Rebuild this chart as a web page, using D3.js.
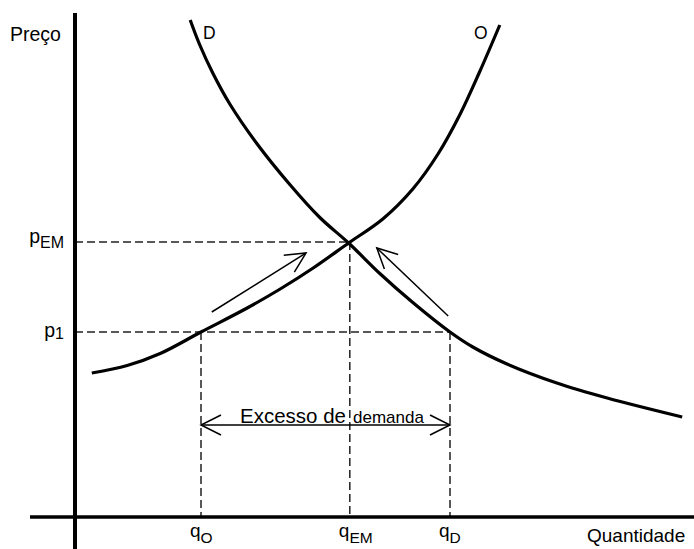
<!DOCTYPE html>
<html>
<head>
<meta charset="utf-8">
<script src="https://cdn.jsdelivr.net/npm/d3@7"></script>
<style>
  html, body { margin: 0; padding: 0; background: #fff; }
  svg { display: block; font-family: "Liberation Sans", Arial, sans-serif; }
</style>
</head>
<body>
<svg id="chart" width="694" height="549"></svg>
<script>
// quantities and prices marked on the axes
const quantidades = [2.1, 4.58, 6.25];
const qSubs = ["O", "EM", "D"];
const precos = [3.7, 5.5];
const pSubs = ["1", "EM"];
const equilibrio = [4.58, 5.5];

// demand (D) and supply (O) curves, [quantity, price]
const demanda = [
  [1.92, 9.94], [2.08, 9.44], [2.30, 8.87], [2.58, 8.26], [3.03, 7.47],
  [3.58, 6.65], [4.08, 5.99], [4.56, 5.48], [5.08, 4.87], [5.63, 4.29],
  [6.25, 3.70], [6.63, 3.40], [7.20, 3.06], [8.03, 2.68], [8.87, 2.38],
  [10.12, 2.00]
];
const oferta = [
  [0.28, 2.88], [0.87, 3.03], [1.42, 3.27], [2.10, 3.70], [2.87, 4.18],
  [3.42, 4.56], [3.97, 4.98], [4.56, 5.48], [5.13, 5.96], [5.63, 6.56],
  [6.05, 7.26], [6.42, 8.06], [6.75, 8.92], [7.08, 9.84]
];

// arrows pointing toward the equilibrium
const setas = [
  [[2.28, 4.10], [3.85, 5.28]],
  [[6.22, 4.02], [5.03, 5.38]]
];
// level of the "excess demand" double arrow
const nivelExcesso = 1.84;

const svg = d3.select("#chart");
const x = d3.scaleLinear().domain([0, 10]).range([75, 675]);
const y = d3.scaleLinear().domain([0, 10]).range([517, 17]);

svg.append("rect").attr("width", 694).attr("height", 549).attr("fill", "#fff");

let defs = svg.append("defs");
defs.append("marker")
  .attr("id", "head")
  .attr("viewBox", "-22 -12 24 24")
  .attr("markerUnits", "userSpaceOnUse")
  .attr("markerWidth", 24)
  .attr("markerHeight", 24)
  .attr("refX", 0)
  .attr("refY", 0)
  .attr("orient", "auto-start-reverse")
  .append("path")
  .attr("d", "M-20,-10L0,0L-20,10")
  .attr("fill", "none")
  .attr("stroke", "#000")
  .attr("stroke-width", 1.5);

// dashed guides
let guias = svg.append("g")
  .attr("stroke", "#222")
  .attr("stroke-width", 1.5)
  .attr("stroke-dasharray", "8,4")
  .attr("fill", "none");

guias.append("line")
  .attr("x1", x(0)).attr("x2", x(equilibrio[0]))
  .attr("y1", y(precos[1])).attr("y2", y(precos[1]));
guias.append("line")
  .attr("x1", x(0)).attr("x2", x(quantidades[2]))
  .attr("y1", y(precos[0])).attr("y2", y(precos[0]));
guias.append("line")
  .attr("x1", x(quantidades[0])).attr("x2", x(quantidades[0]))
  .attr("y1", y(precos[0])).attr("y2", y(0));
guias.append("line")
  .attr("x1", x(quantidades[1])).attr("x2", x(quantidades[1]))
  .attr("y1", y(precos[1])).attr("y2", y(0));
guias.append("line")
  .attr("x1", x(quantidades[2])).attr("x2", x(quantidades[2]))
  .attr("y1", y(precos[0])).attr("y2", y(0));

// curves
let linha = d3.line()
  .x(d => x(d[0]))
  .y(d => y(d[1]))
  .curve(d3.curveCatmullRom.alpha(0.5));

[demanda, oferta].forEach(serie => {
  svg.append("path")
    .attr("d", linha(serie))
    .attr("fill", "none")
    .attr("stroke", "#000")
    .attr("stroke-width", 3.2)
    .attr("stroke-linecap", "butt");
});

// arrows
setas.forEach(s => {
  svg.append("line")
    .attr("x1", x(s[0][0])).attr("y1", y(s[0][1]))
    .attr("x2", x(s[1][0])).attr("y2", y(s[1][1]))
    .attr("stroke", "#000")
    .attr("stroke-width", 1.5)
    .attr("marker-end", "url(#head)");
});

svg.append("line")
  .attr("x1", x(quantidades[0])).attr("x2", x(quantidades[2]))
  .attr("y1", y(nivelExcesso)).attr("y2", y(nivelExcesso))
  .attr("stroke", "#000")
  .attr("stroke-width", 1.5)
  .attr("marker-start", "url(#head)")
  .attr("marker-end", "url(#head)");

svg.append("text")
  .attr("x", 240).attr("y", y(nivelExcesso) - 2)
  .attr("font-size", 20.5)
  .text("Excesso de");
svg.append("text")
  .attr("x", 353).attr("y", y(nivelExcesso) - 2)
  .attr("font-size", 17)
  .text("demanda");

// axes
svg.append("line")
  .attr("x1", x(0)).attr("x2", x(0))
  .attr("y1", 13).attr("y2", 549)
  .attr("stroke", "#000").attr("stroke-width", 4);
svg.append("line")
  .attr("x1", 30).attr("x2", 694)
  .attr("y1", y(0)).attr("y2", y(0))
  .attr("stroke", "#000").attr("stroke-width", 3.5);

// axis titles
svg.append("text").attr("x", 10).attr("y", 41).attr("font-size", 19.5).text("Preço");
svg.append("text").attr("x", 587).attr("y", 542).attr("font-size", 19).text("Quantidade");

// curve labels
svg.append("text").attr("x", 203).attr("y", 39).attr("font-size", 17.5).text("D");
svg.append("text").attr("x", 474).attr("y", 39).attr("font-size", 17.5).text("O");

// quantity tick labels
quantidades.forEach((q, i) => {
  let t = svg.append("text")
    .attr("x", x(q) - 11)
    .attr("y", 537)
    .attr("font-size", 19);
  t.append("tspan").text("q");
  t.append("tspan").attr("font-size", 15.5).attr("dy", 6).text(qSubs[i]);
});

// price tick labels
const pDy = [2, 5];
const pBase = [337, 243];
precos.forEach((p, i) => {
  let t = svg.append("text")
    .attr("x", 64)
    .attr("y", pBase[i])
    .attr("text-anchor", "end")
    .attr("font-size", 19.5);
  t.append("tspan").text("p");
  t.append("tspan").attr("font-size", 16).attr("dy", pDy[i]).text(pSubs[i]);
});
</script>
</body>
</html>
